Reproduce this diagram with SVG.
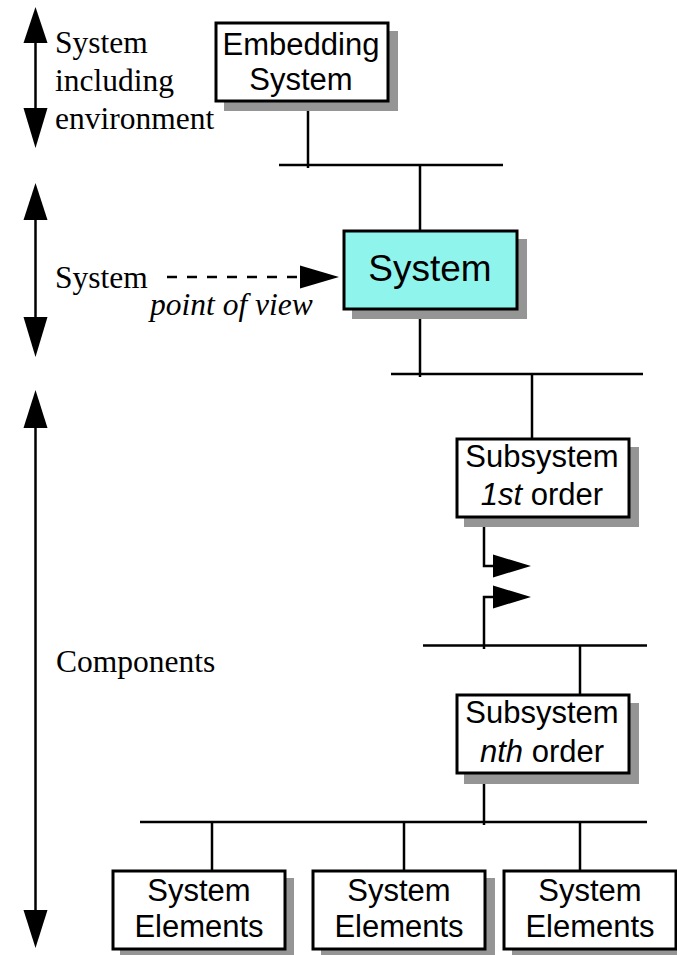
<svg xmlns="http://www.w3.org/2000/svg" width="677" height="955" viewBox="0 0 677 955">
<style>
.box{fill:#fff;stroke:#000;stroke-width:3}
.sh{fill:#959595}
.ln{stroke:#000;stroke-width:2.5;fill:none}
.ah{fill:#000}
.sans{font-family:"Liberation Sans",Arial,sans-serif;font-size:31px;fill:#000;text-anchor:middle}
.serif{font-family:"Liberation Serif","Times New Roman",serif;font-size:31.5px;fill:#000}
</style>
<rect width="677" height="955" fill="#fff"/>
<g id="scale-arrows">
<line class="ln" x1="35.5" y1="40" x2="35.5" y2="110"/>
<polygon class="ah" points="35.5,7 47.5,43 23.5,43"/>
<polygon class="ah" points="35.5,148 47.5,108 23.5,108"/>
<line class="ln" x1="35.5" y1="215" x2="35.5" y2="320"/>
<polygon class="ah" points="35.5,183 47.5,220 23.5,220"/>
<polygon class="ah" points="35.5,357 47.5,317 23.5,317"/>
<line class="ln" x1="35.5" y1="425" x2="35.5" y2="912"/>
<polygon class="ah" points="35.5,390 47.5,428 23.5,428"/>
<polygon class="ah" points="35.5,948 47.5,910 23.5,910"/>
</g>
<g id="labels">
<text class="serif" x="55" y="53">System</text>
<text class="serif" x="55" y="91">including</text>
<text class="serif" x="55" y="129">environment</text>
<text class="serif" x="55" y="288">System</text>
<text class="serif" x="150" y="315" font-style="italic">point of view</text>
<text class="serif" x="56" y="672">Components</text>
</g>
<g id="connectors">
<line class="ln" x1="308" y1="102" x2="308" y2="168"/>
<line class="ln" x1="279" y1="165" x2="503" y2="165"/>
<line class="ln" x1="420" y1="165" x2="420" y2="230"/>
<line class="ln" x1="420" y1="310" x2="420" y2="377"/>
<line class="ln" x1="391" y1="374" x2="643" y2="374"/>
<line class="ln" x1="532" y1="374" x2="532" y2="438"/>
<polyline class="ln" points="484,518 484,566 494,566"/>
<polygon class="ah" points="493,554.5 531,566 493,577.5"/>
<polyline class="ln" points="484,649 484,597 494,597"/>
<polygon class="ah" points="493,585.5 531,597 493,608.5"/>
<line class="ln" x1="423" y1="645.5" x2="647" y2="645.5"/>
<line class="ln" x1="580" y1="645.5" x2="580" y2="694"/>
<line class="ln" x1="484" y1="774" x2="484" y2="825"/>
<line class="ln" x1="140" y1="822" x2="647" y2="822"/>
<line class="ln" x1="212" y1="822" x2="212" y2="870"/>
<line class="ln" x1="404" y1="822" x2="404" y2="870"/>
<line class="ln" x1="580" y1="822" x2="580" y2="870"/>
<line class="ln" x1="167" y1="277" x2="301" y2="277" stroke-dasharray="10 10"/>
<polygon class="ah" points="300,265.5 339,277 300,288.5"/>
</g>
<g id="embedding-system">
<rect class="sh" x="224" y="31" width="174" height="80"/>
<rect class="box" x="216" y="23" width="172" height="78"/>
<text class="sans" x="301" y="55">Embedding</text>
<text class="sans" x="301" y="90">System</text>
</g>
<g id="system">
<rect class="sh" x="352" y="239" width="175" height="80"/>
<rect class="box" x="344" y="231" width="173" height="78" fill="#8ff5ec" style="fill:#8ff5ec"/>
<text class="sans" x="430" y="281" font-size="37" style="font-size:37px">System</text>
</g>
<g id="subsystem-1st">
<rect class="sh" x="464" y="447" width="175" height="80"/>
<rect class="box" x="457" y="439" width="172" height="78"/>
<text class="sans" x="542" y="467">Subsystem</text>
<text class="sans" x="542" y="505"><tspan font-style="italic">1st</tspan> order</text>
</g>
<g id="subsystem-nth">
<rect class="sh" x="464" y="703" width="175" height="81"/>
<rect class="box" x="457" y="695" width="172" height="78"/>
<text class="sans" x="542" y="723">Subsystem</text>
<text class="sans" x="542" y="762"><tspan font-style="italic">nth</tspan> order</text>
</g>
<g id="element-1">
<rect class="sh" x="120" y="878" width="174" height="80"/>
<rect class="box" x="113" y="871" width="172" height="78"/>
<text class="sans" x="199" y="901">System</text>
<text class="sans" x="199" y="937">Elements</text>
</g>
<g id="element-2">
<rect class="sh" x="321" y="878" width="174" height="80"/>
<rect class="box" x="313" y="871" width="172" height="78"/>
<text class="sans" x="399" y="901">System</text>
<text class="sans" x="399" y="937">Elements</text>
</g>
<g id="element-3">
<rect class="sh" x="512" y="878" width="174" height="80"/>
<rect class="box" x="504" y="871" width="172" height="78"/>
<text class="sans" x="590" y="901">System</text>
<text class="sans" x="590" y="937">Elements</text>
</g>
</svg>
